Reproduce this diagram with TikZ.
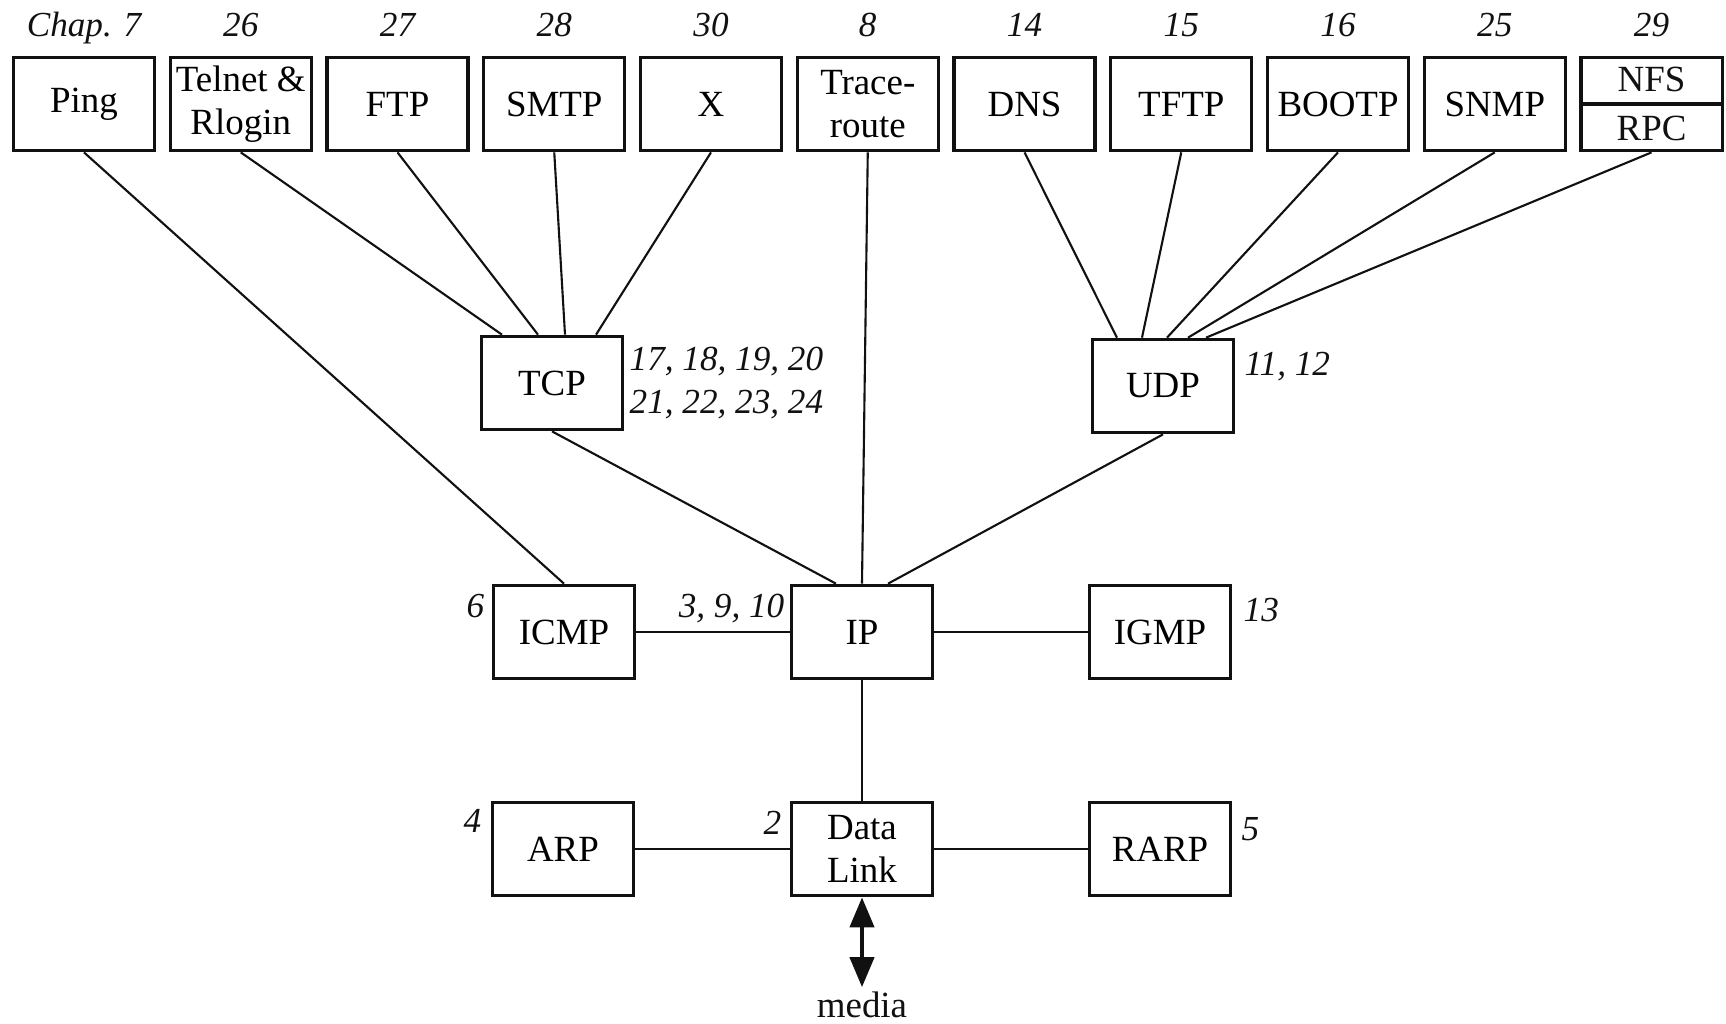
\documentclass[tikz,border=0pt]{standalone}
\usepackage{fontspec}
\setmainfont{Liberation Serif}
\definecolor{tinta}{HTML}{111111}
\usetikzlibrary{
	arrows.meta,
	positioning,
	calc
}
\tikzset{
	caja/.style={
		draw=tinta,
		line width=0.9pt,
		minimum width=1.41cm,
		minimum height=0.935cm,
		inner sep=0pt,
		align=center,
		font=\fontsize{10.5}{12.2}\selectfont
	},
	texto/.style={
		inner sep=1pt,
		text=tinta,
		font=\fontsize{10.5}{12.2}\selectfont
	},
	capitulo/.style={
		inner sep=0pt,
		text=tinta,
		font=\fontsize{10}{12}\selectfont\itshape
	},
	enlace/.style={
		draw=tinta,
		line width=0.6pt
	},
	flecha/.style={
		{Triangle[length=3mm,width=2.4mm]}-{Triangle[length=3mm,width=2.4mm]},
		line width=1.2pt,
		tinta
	}
}

\begin{document}
\begin{tikzpicture}[x=0.01cm, y=-0.01cm, node distance=0.125cm]
		\useasboundingbox (0,0) rectangle (1726,1023);
		\node[caja] (ping) at (84,104) {Ping};
		\node[caja, right=of ping] (telnet) {Telnet \&\\Rlogin};
		\node[caja, right=of telnet] (ftp) {FTP};
		\node[caja, right=of ftp] (smtp) {SMTP};
		\node[caja, right=of smtp] (xwin) {X};
		\node[caja, right=of xwin] (trace) {Trace-\\route};
		\node[caja, right=of trace] (dns) {DNS};
		\node[caja, right=of dns] (tftp) {TFTP};
		\node[caja, right=of tftp] (bootp) {BOOTP};
		\node[caja, right=of bootp] (snmp) {SNMP};
		\node[caja, right=of snmp] (nfs) {};
		\draw[tinta, line width=0.9pt] (nfs.west) -- (nfs.east);
		\node[texto] (nfstexto) at ($(nfs.center)!0.5!(nfs.north)$) {NFS};
		\node[texto] (rpctexto) at ($(nfs.center)!0.5!(nfs.south)$) {RPC};
		\node[capitulo, above=0.19cm of ping, anchor=base] (cping) {Chap. 7};
		\node[capitulo, above=0.19cm of telnet, anchor=base] (ctelnet) {26};
		\node[capitulo, above=0.19cm of ftp, anchor=base] (cftp) {27};
		\node[capitulo, above=0.19cm of smtp, anchor=base] (csmtp) {28};
		\node[capitulo, above=0.19cm of xwin, anchor=base] (cxwin) {30};
		\node[capitulo, above=0.19cm of trace, anchor=base] (ctrace) {8};
		\node[capitulo, above=0.19cm of dns, anchor=base] (cdns) {14};
		\node[capitulo, above=0.19cm of tftp, anchor=base] (ctftp) {15};
		\node[capitulo, above=0.19cm of bootp, anchor=base] (cbootp) {16};
		\node[capitulo, above=0.19cm of snmp, anchor=base] (csnmp) {25};
		\node[capitulo, above=0.19cm of nfs, anchor=base] (cnfs) {29};
		\node[caja] (tcp) at (552,383) {TCP};
		\node[caja] (udp) at (1163,386) {UDP};
		\node[caja] (icmp) at (564,632) {ICMP};
		\node[caja] (ip) at (862,632) {IP};
		\node[caja] (igmp) at (1160,632) {IGMP};
		\node[caja] (arp) at (563,849) {ARP};
		\node[caja] (dl) at (862,849) {Data\\Link};
		\node[caja] (rarp) at (1160,849) {RARP};
		\node[texto, anchor=base] (media) at (862,1017) {media};
		\node[capitulo, anchor=base west] (ctcpa) at (629,370) {17, 18, 19, 20};
		\node[capitulo, anchor=base west] (ctcpb) at (629,413) {21, 22, 23, 24};
		\node[capitulo, anchor=base west] (cudp) at (1244,375) {11, 12};
		\node[capitulo, anchor=base east] (cicmp) at (485,617) {6};
		\node[capitulo, anchor=base east] (cip) at (785,617) {3, 9, 10};
		\node[capitulo, anchor=base west] (cigmp) at (1243,621) {13};
		\node[capitulo, anchor=base east] (carp) at (482,832) {4};
		\node[capitulo, anchor=base east] (cdl) at (782,834) {2};
		\node[capitulo, anchor=base west] (crarp) at (1241,840) {5};
		\draw[enlace] (ping.south) -- (icmp.north);
		\draw[enlace] (telnet.south) -- ([xshift=-0.5cm]tcp.north);
		\draw[enlace] (ftp.south) -- ([xshift=-0.14cm]tcp.north);
		\draw[enlace] (smtp.south) -- ([xshift=0.13cm]tcp.north);
		\draw[enlace] (xwin.south) -- ([xshift=0.44cm]tcp.north);
		\draw[enlace] (trace.south) -- (ip.north);
		\draw[enlace] (dns.south) -- ([xshift=-0.46cm]udp.north);
		\draw[enlace] (tftp.south) -- ([xshift=-0.21cm]udp.north);
		\draw[enlace] (bootp.south) -- ([xshift=0.04cm]udp.north);
		\draw[enlace] (snmp.south) -- ([xshift=0.25cm]udp.north);
		\draw[enlace] (nfs.south) -- ([xshift=0.43cm]udp.north);
		\draw[enlace] (tcp.south) -- ([xshift=-0.26cm]ip.north);
		\draw[enlace] (udp.south) -- ([xshift=0.26cm]ip.north);
		\draw[enlace] (icmp) -- (ip);
		\draw[enlace] (ip) -- (igmp);
		\draw[enlace] (ip) -- (dl);
		\draw[enlace] (arp) -- (dl);
		\draw[enlace] (dl) -- (rarp);
		\draw[flecha] (dl.south) -- (media.north);
	\end{tikzpicture}
\end{document}
